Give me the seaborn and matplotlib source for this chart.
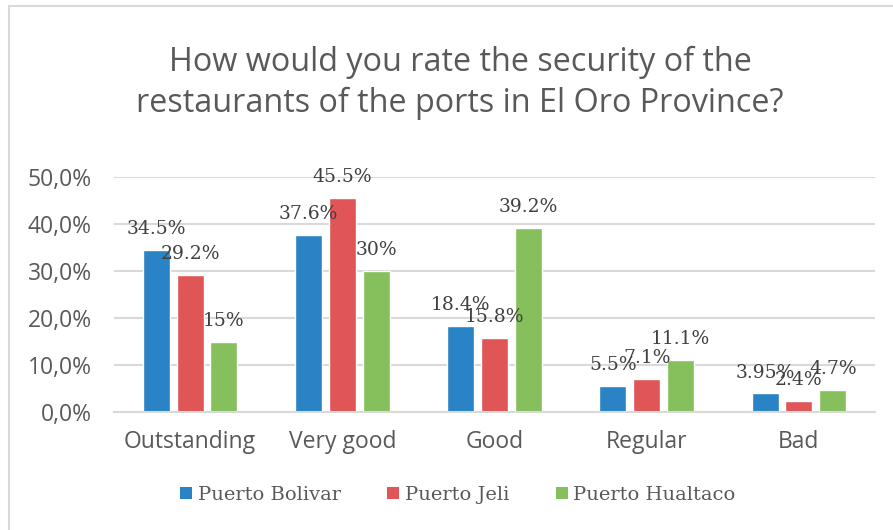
import matplotlib
matplotlib.use("Agg")
import matplotlib.pyplot as plt
import seaborn as sns
import pandas as pd
from matplotlib.lines import Line2D
from matplotlib.patches import Patch

categories = ["Outstanding", "Very good", "Good", "Regular", "Bad"]
series_names = ["Puerto Bolivar", "Puerto Jeli", "Puerto Hualtaco"]
bolivar = [34.5, 37.6, 18.4, 5.5, 3.95]
jeli = [29.2, 45.5, 15.8, 7.1, 2.4]
hualtaco = [15, 30, 39.2, 11.1, 4.7]
label_bolivar = ["34.5%", "37.6%", "18.4%", "5.5%", "3.95%"]
label_jeli = ["29.2%", "45.5%", "15.8%", "7.1%", "2.4%"]
label_hualtaco = ["15%", "30%", "39.2%", "11.1%", "4.7%"]
y_ticks = [0, 10, 20, 30, 40, 50]
y_tick_labels = ["0,0%", "10,0%", "20,0%", "30,0%", "40,0%", "50,0%"]
colors = ["#2A83C4", "#E05656", "#85C05C"]

rows = []
for s, vals, labs in zip(series_names, [bolivar, jeli, hualtaco],
                         [label_bolivar, label_jeli, label_hualtaco]):
    for c, v, l in zip(categories, vals, labs):
        rows.append({"category": c, "series": s, "value": v, "label": l})
df = pd.DataFrame(rows)

sns.set_theme(style="white")
W, H = 893, 530
fig = plt.figure(figsize=(W / 100, H / 100), dpi=100)
ax = fig.add_axes([114 / W, 1 - 412 / H, (875 - 114) / W, (412 - 177) / H])

sns.barplot(data=df, x="category", y="value", hue="series", hue_order=series_names,
            palette=colors, width=0.667, gap=0.2, ax=ax, legend=False,
            saturation=1, errorbar=None)

ax.set_ylim(0, 50)
ax.set_xlim(-0.5, 4.5)
ax.set_yticks(y_ticks)
ax.set_yticklabels(y_tick_labels, fontfamily="Open Sans", fontsize=16.5, color="#595959")
ax.set_xticks(range(len(categories)))
ax.set_xticklabels(categories, fontfamily="Open Sans", fontsize=16.5, color="#595959")
ax.tick_params(axis="both", length=0)
ax.tick_params(axis="x", pad=13)
ax.tick_params(axis="y", pad=16)
ax.set_xlabel("")
ax.set_ylabel("")
ax.grid(axis="y", color="#D9D9D9", linewidth=1.5)
ax.set_axisbelow(True)
for sp in ["top", "right", "left"]:
    ax.spines[sp].set_visible(False)
ax.spines["bottom"].set_color("#D9D9D9")
ax.spines["bottom"].set_linewidth(1.5)

for cont, labs in zip(ax.containers, [label_bolivar, label_jeli, label_hualtaco]):
    for bar, lab in zip(cont, labs):
        ax.annotate(lab, (bar.get_x() + bar.get_width() / 2, bar.get_height()),
                    xytext=(0, 8.5), textcoords="offset points", ha="center", va="bottom",
                    fontfamily="DejaVu Serif", fontsize=13.5, color="#404040")

fig.text(460 / W, 1 - 83 / H,
         "How would you rate the security of the\nrestaurants of the ports in El Oro Province?",
         ha="center", va="center", fontfamily="Open Sans", fontsize=23.3,
         color="#595959", linespacing=1.3)

handles = [Patch(facecolor=c, edgecolor="none") for c in colors]
leg = fig.legend(handles, series_names, loc="center", bbox_to_anchor=(458 / W, 1 - 495 / H),
                 ncol=3, frameon=False, handlelength=0.6, handleheight=0.6,
                 handletextpad=0.3, columnspacing=2.4,
                 prop={"family": "DejaVu Serif", "size": 14})
for t in leg.get_texts():
    t.set_color("#595959")

fig.add_artist(Line2D([8.5 / W, 1], [1 - 5.5 / H, 1 - 5.5 / H], color="#D9D9D9", linewidth=1.5))
fig.add_artist(Line2D([8.5 / W, 8.5 / W], [0, 1 - 5.5 / H], color="#D9D9D9", linewidth=1.5))

fig.savefig("out.png", dpi=100)
